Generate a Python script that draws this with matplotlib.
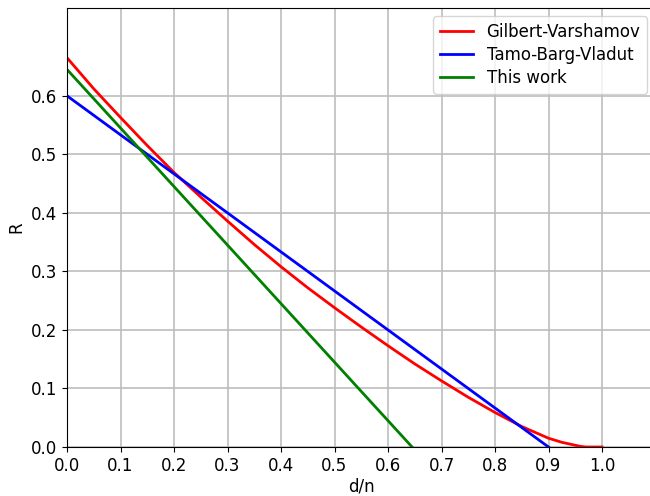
import matplotlib
matplotlib.use('Agg')
import matplotlib.pyplot as plt

# Gilbert-Varshamov curve
gv_x = [0.0, 0.05, 0.1, 0.15, 0.2, 0.25, 0.3, 0.35, 0.4, 0.45, 0.5, 0.55,
        0.6, 0.65, 0.7, 0.75, 0.8, 0.85, 0.9, 0.925, 0.95, 0.96, 0.97, 1.0]
gv_y = [0.665, 0.612, 0.563, 0.515, 0.469, 0.427, 0.386, 0.346, 0.308, 0.272,
        0.238, 0.205, 0.173, 0.142, 0.113, 0.085, 0.059, 0.035, 0.015, 0.008,
        0.003, 0.001, 0.0, 0.0]

# Tamo-Barg-Vladut line
tbv_x = [0.0, 0.9]
tbv_y = [0.6, 0.0]

# This work
tw_x = [0.0, 0.645]
tw_y = [0.645, 0.0]

xticks = [0.0, 0.1, 0.2, 0.3, 0.4, 0.5, 0.6, 0.7, 0.8, 0.9, 1.0]
yticks = [0.0, 0.1, 0.2, 0.3, 0.4, 0.5, 0.6]

fig = plt.figure(figsize=(6.5, 4.96), dpi=100)
plt.rcParams['font.size'] = 12
ax = fig.add_axes([67 / 650, 49 / 496, 588.5 / 650, 439 / 496])

ax.plot(gv_x, gv_y, color='red', lw=2, label='Gilbert-Varshamov')
ax.plot(tbv_x, tbv_y, color='blue', lw=2, label='Tamo-Barg-Vladut')
ax.plot(tw_x, tw_y, color='green', lw=2, label='This work')

ax.set_xlim(0, 1.1)
ax.set_ylim(0, 0.75)
ax.set_xticks(xticks)
ax.set_yticks(yticks)
ax.tick_params(labelsize=12)
ax.set_xlabel('d/n', fontsize=12, labelpad=2)
ax.set_ylabel('R', fontsize=12)
ax.grid(True, color='#bdbdbd', lw=1.2)
ax.legend(loc='upper right', fontsize=12, labelspacing=0.3)

fig.savefig('out.png', dpi=100)
